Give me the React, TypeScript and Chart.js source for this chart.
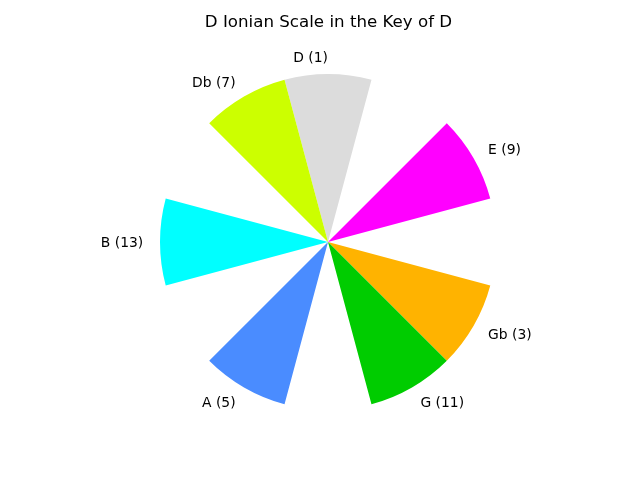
import React, { useEffect, useRef } from "react";
import { Chart, registerables } from "chart.js";

Chart.register(...registerables);

const TITLE = "D Ionian Scale in the Key of D";
const notes = ["D", "Eb", "E", "F", "Gb", "G", "Ab", "A", "Bb", "B", "C", "Db"];
const degrees: (number | null)[] = [1, null, 9, null, 3, 11, null, 5, null, 13, null, 7];
const values = [1, 0, 1, 0, 1, 1, 0, 1, 0, 1, 0, 1];
const colors = [
  "#dcdcdc",
  "#ffffff",
  "#ff00ff",
  "#ffffff",
  "#ffb300",
  "#00cc00",
  "#ffffff",
  "#4a8cff",
  "#ffffff",
  "#00ffff",
  "#ffffff",
  "#ccff00",
];
const LABEL_VALUE = 1.1;
const TEXT_BASELINE_SHIFT = 1;

const labelPlugin = {
  id: "noteLabels",
  afterDatasetsDraw(chart: any) {
    const ctx = chart.ctx;
    const scale = chart.scales.r;
    const meta = chart.getDatasetMeta(0);
    const r = scale.getDistanceFromCenterForValue(LABEL_VALUE);
    ctx.save();
    ctx.font = "13.89px 'DejaVu Sans'";
    ctx.fillStyle = "#000";
    ctx.textBaseline = "middle";
    meta.data.forEach((arc: any, i: number) => {
      if (degrees[i] === null) return;
      const a = (arc.startAngle + arc.endAngle) / 2;
      const c = Math.cos(a);
      ctx.textAlign = c > 1e-6 ? "left" : "right";
      ctx.fillText(
        `${notes[i]} (${degrees[i]})`,
        scale.xCenter + r * c,
        scale.yCenter + r * Math.sin(a) + TEXT_BASELINE_SHIFT
      );
    });
    ctx.restore();
  },
};

export default function App() {
  const ref = useRef<HTMLCanvasElement>(null);
  useEffect(() => {
    if (!ref.current) return;
    const chart = new Chart(ref.current, {
      type: "polarArea",
      data: {
        labels: notes,
        datasets: [
          {
            data: values,
            backgroundColor: colors,
            borderWidth: 0,
          },
        ],
      },
      options: {
        responsive: false,
        animation: false,
        layout: { padding: { left: 160, right: 143, top: 0, bottom: 69 } },
        scales: {
          r: {
            display: false,
            min: 0,
            max: 1,
            startAngle: -15,
          },
        },
        plugins: {
          legend: { display: false },
          tooltip: { enabled: false },
          title: {
            display: true,
            text: TITLE,
            color: "#000",
            font: { family: "'DejaVu Sans'", size: 16.67, weight: "normal", lineHeight: "20px" },
            padding: { top: 13, bottom: 41 },
          },
        },
      },
      plugins: [labelPlugin],
    });
    return () => chart.destroy();
  }, []);
  return (
    <div style={{ position: "absolute", left: 0, top: 0, width: 640, height: 480, background: "#fff" }}>
      <canvas ref={ref} width={640} height={480} />
    </div>
  );
}
